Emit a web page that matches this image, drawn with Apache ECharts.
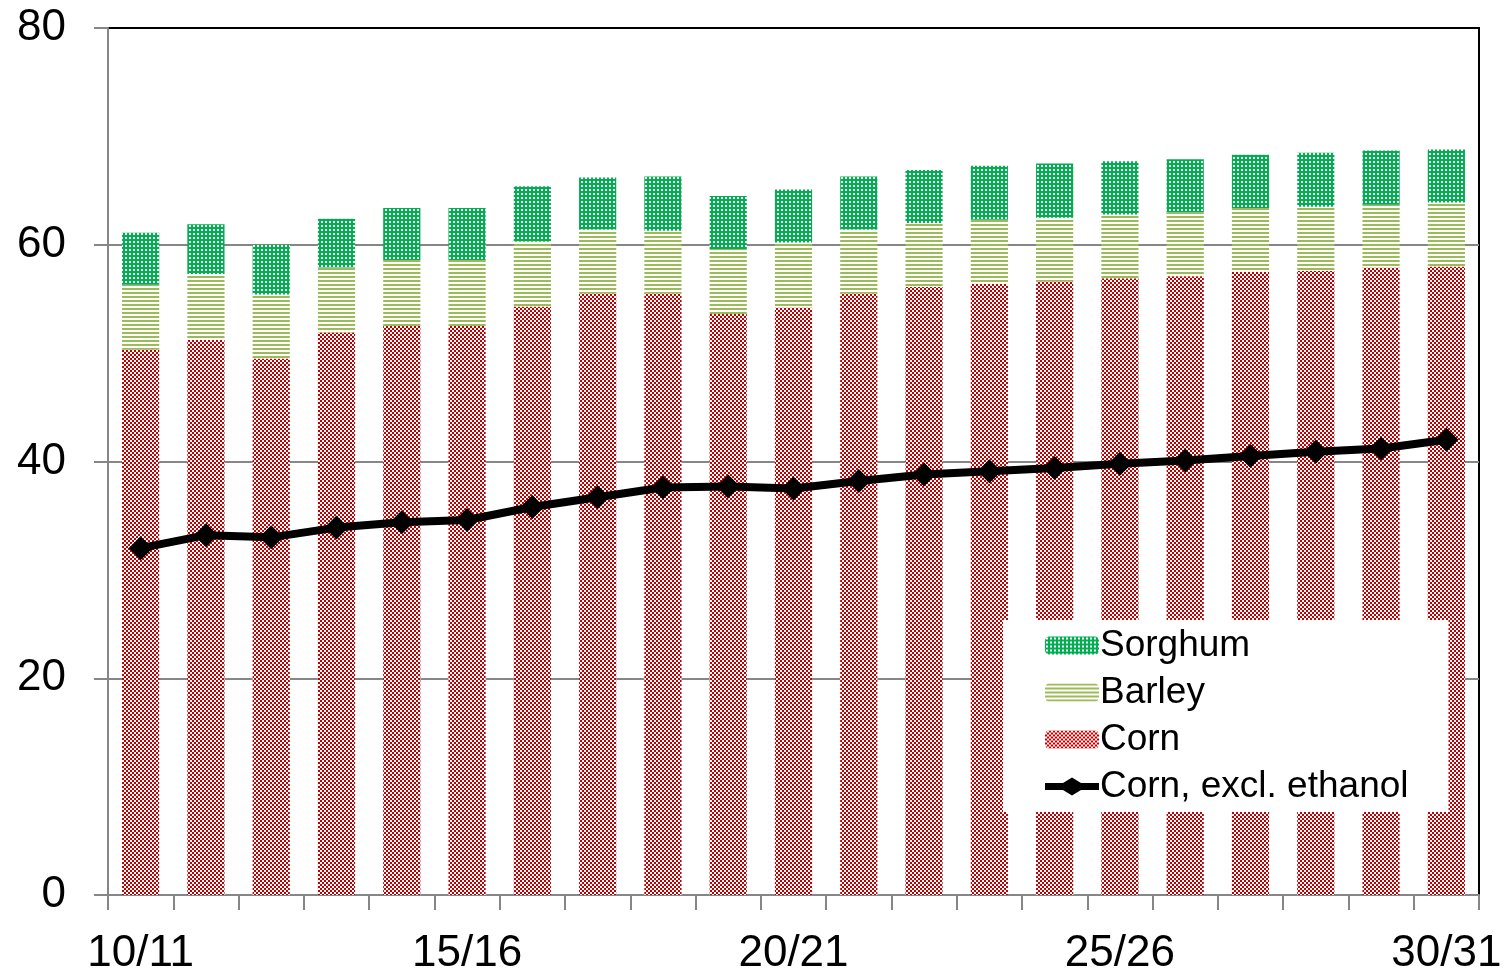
<!DOCTYPE html>
<html>
<head>
<meta charset="utf-8">
<script src="https://cdn.jsdelivr.net/npm/echarts@6/dist/echarts.min.js"></script>
<style>
  html, body { margin: 0; padding: 0; background: #fff; }
  #main { width: 1511px; height: 976px; }
</style>
</head>
<body>
<div id="main"></div>
<script>
var years = ["10/11", "11/12", "12/13", "13/14", "14/15", "15/16", "16/17", "17/18", "18/19", "19/20",
  "20/21", "21/22", "22/23", "23/24", "24/25", "25/26", "26/27", "27/28", "28/29", "29/30", "30/31"];
var corn = [50.3, 51.2, 49.5, 51.9, 52.5, 52.5, 54.3, 55.5, 55.5, 53.6, 54.2, 55.5, 56.1, 56.4, 56.6, 56.9, 57.1, 57.5, 57.6, 57.9, 58.0];
var barley = [6.0, 6.1, 5.9, 6.0, 6.1, 6.1, 6.0, 5.9, 5.8, 6.0, 6.0, 5.9, 5.9, 5.9, 5.9, 5.9, 5.9, 5.9, 5.9, 5.8, 5.9];
var sorghum = [4.8, 4.6, 4.6, 4.5, 4.8, 4.8, 5.1, 4.8, 5.0, 4.9, 4.9, 4.9, 4.9, 5.0, 5.0, 4.9, 4.9, 4.9, 5.0, 5.0, 4.9];
var cornExEthanol = [32.0, 33.2, 33.0, 33.9, 34.4, 34.6, 35.8, 36.7, 37.6, 37.7, 37.5, 38.2, 38.8, 39.1, 39.4, 39.8, 40.1, 40.5, 40.9, 41.2, 42.0];
var yTicks = [0, 20, 40, 60, 80];

// little canvas tiles for the excel-like fill patterns
function makeTile(size, draw) {
  var c = document.createElement("canvas");
  c.width = size;
  c.height = size;
  var ctx = c.getContext("2d");
  ctx.fillStyle = "#fff";
  ctx.fillRect(0, 0, size, size);
  draw(ctx);
  return { image: c, repeat: "repeat" };
}
// checkerboard red
var cornFill = makeTile(4, function (ctx) {
  ctx.fillStyle = "#c00000";
  ctx.fillRect(0, 0, 2, 2);
  ctx.fillRect(2, 2, 2, 2);
});
// horizontal green lines
var barleyFill = makeTile(4, function (ctx) {
  ctx.fillStyle = "#9bbb59";
  ctx.fillRect(0, 0, 4, 2);
});
// green with white dots
var sorghumFill = makeTile(4, function (ctx) {
  ctx.fillStyle = "#00b050";
  ctx.fillRect(0, 0, 4, 4);
  ctx.fillStyle = "#fff";
  ctx.fillRect(1, 1, 2, 2);
});

var font = "Liberation Sans, Arial, sans-serif";
// thick line with a diamond in the middle, for the legend
var lineIcon = "path://M0,5.5H18L27,0L36,5.5H54V12.5H36L27,18L18,12.5H0Z";

var myChart = echarts.init(document.getElementById("main"));
var option = {
  animation: false,
  grid: {
    left: 108,
    right: 32,
    top: 28,
    bottom: 80,
    show: true,
    borderColor: "#000",
    borderWidth: 2,
  },
  legend: {
    orient: "vertical",
    left: 1003,
    top: 620,
    padding: [7, 40, 7, 42],
    backgroundColor: "#fff",
    itemWidth: 54,
    itemHeight: 18,
    itemGap: 10,
    data: [
      { name: "Sorghum" },
      { name: "Barley" },
      { name: "Corn" },
      { name: "Corn, excl. ethanol", icon: lineIcon, itemStyle: { color: "#000" } },
    ],
    textStyle: { fontFamily: font, fontSize: 37, lineHeight: 37, color: "#000", padding: [0, 0, 0, -4] },
  },
  xAxis: {
    type: "category",
    data: years,
    axisLine: { lineStyle: { color: "#868686", width: 2 } },
    axisTick: { show: true, interval: 0, length: 15, lineStyle: { color: "#868686", width: 2 } },
    axisLabel: { interval: 4, margin: 37, fontFamily: font, fontSize: 44, color: "#000" },
  },
  yAxis: {
    type: "value",
    min: yTicks[0],
    max: yTicks[yTicks.length - 1],
    interval: 20,
    axisLine: { show: true, lineStyle: { color: "#868686", width: 2 } },
    axisTick: { show: true, length: 14, lineStyle: { color: "#868686", width: 2 } },
    axisLabel: { margin: 42, fontFamily: font, fontSize: 44, color: "#000" },
    splitLine: { showMaxLine: false, lineStyle: { color: "#868686", width: 2 } },
  },
  series: [
    {
      name: "Corn",
      type: "bar",
      stack: "feed",
      barCategoryGap: "43%",
      itemStyle: { color: cornFill },
      data: corn,
    },
    {
      name: "Barley",
      type: "bar",
      stack: "feed",
      itemStyle: { color: barleyFill },
      data: barley,
    },
    {
      name: "Sorghum",
      type: "bar",
      stack: "feed",
      itemStyle: { color: sorghumFill },
      data: sorghum,
    },
    {
      name: "Corn, excl. ethanol",
      type: "line",
      z: 5,
      symbol: "diamond",
      symbolSize: 24,
      lineStyle: { color: "#000", width: 8 },
      itemStyle: { color: "#000" },
      data: cornExEthanol,
    },
  ],
};
myChart.setOption(option);
</script>
</body>
</html>
